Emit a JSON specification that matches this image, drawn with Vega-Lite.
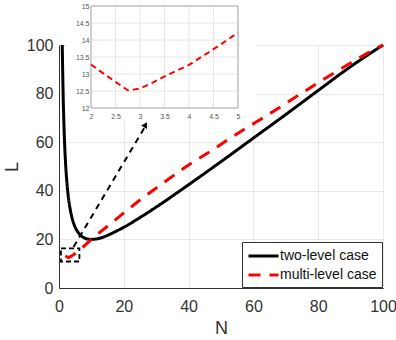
{
  "$schema": "https://vega.github.io/schema/vega-lite/v6.json",
  "width": 324,
  "height": 243,
  "autosize": "none",
  "padding": {"left": 59, "top": 45, "right": 13, "bottom": 52},
  "background": "white",
  "config": {
    "font": "Liberation Sans",
    "view": {"stroke": "#333333", "strokeWidth": 1},
    "legend": {
      "orient": "bottom-right",
      "offset": 1,
      "strokeColor": "#333333",
      "fillColor": "white",
      "padding": 5,
      "rowPadding": 3,
      "symbolType": "M-1,0H3",
      "symbolSize": 225,
      "symbolStrokeWidth": 3,
      "labelFontSize": 14,
      "labelColor": "#111111",
      "labelOffset": 15,
      "labelFont": "Liberation Sans"
    }
  },
  "datasets": {
    "curves": [
      {"N": 1, "L": 100, "series": "two-level case"},
      {"N": 1.25, "L": 81.3, "series": "two-level case"},
      {"N": 1.5, "L": 68.2, "series": "two-level case"},
      {"N": 1.75, "L": 58.9, "series": "two-level case"},
      {"N": 2, "L": 52, "series": "two-level case"},
      {"N": 2.5, "L": 42.5, "series": "two-level case"},
      {"N": 3, "L": 36.3, "series": "two-level case"},
      {"N": 3.5, "L": 32.1, "series": "two-level case"},
      {"N": 4, "L": 29, "series": "two-level case"},
      {"N": 5, "L": 25, "series": "two-level case"},
      {"N": 6, "L": 22.7, "series": "two-level case"},
      {"N": 7, "L": 21.3, "series": "two-level case"},
      {"N": 8, "L": 20.5, "series": "two-level case"},
      {"N": 9, "L": 20.1, "series": "two-level case"},
      {"N": 10, "L": 20, "series": "two-level case"},
      {"N": 11, "L": 20.1, "series": "two-level case"},
      {"N": 12, "L": 20.3, "series": "two-level case"},
      {"N": 14, "L": 21.1, "series": "two-level case"},
      {"N": 16, "L": 22.3, "series": "two-level case"},
      {"N": 20, "L": 25, "series": "two-level case"},
      {"N": 25, "L": 29, "series": "two-level case"},
      {"N": 30, "L": 33.3, "series": "two-level case"},
      {"N": 40, "L": 42.5, "series": "two-level case"},
      {"N": 50, "L": 52, "series": "two-level case"},
      {"N": 60, "L": 61.7, "series": "two-level case"},
      {"N": 70, "L": 71.4, "series": "two-level case"},
      {"N": 80, "L": 81.3, "series": "two-level case"},
      {"N": 90, "L": 91.1, "series": "two-level case"},
      {"N": 100, "L": 100, "series": "two-level case"},
      {"N": 2, "L": 13.28, "series": "multi-level case"},
      {"N": 2.25, "L": 13.02, "series": "multi-level case"},
      {"N": 2.5, "L": 12.77, "series": "multi-level case"},
      {"N": 2.75, "L": 12.52, "series": "multi-level case"},
      {"N": 3, "L": 12.57, "series": "multi-level case"},
      {"N": 3.25, "L": 12.74, "series": "multi-level case"},
      {"N": 3.5, "L": 12.93, "series": "multi-level case"},
      {"N": 3.75, "L": 13.1, "series": "multi-level case"},
      {"N": 4, "L": 13.27, "series": "multi-level case"},
      {"N": 4.25, "L": 13.5, "series": "multi-level case"},
      {"N": 4.5, "L": 13.73, "series": "multi-level case"},
      {"N": 4.75, "L": 13.97, "series": "multi-level case"},
      {"N": 5, "L": 14.22, "series": "multi-level case"},
      {"N": 7, "L": 16.4, "series": "multi-level case"},
      {"N": 10, "L": 20, "series": "multi-level case"},
      {"N": 15, "L": 25.5, "series": "multi-level case"},
      {"N": 20, "L": 30.9, "series": "multi-level case"},
      {"N": 25, "L": 36.2, "series": "multi-level case"},
      {"N": 31.5, "L": 42.6, "series": "multi-level case"},
      {"N": 40, "L": 50.6, "series": "multi-level case"},
      {"N": 45, "L": 54.8, "series": "multi-level case"},
      {"N": 55, "L": 63.5, "series": "multi-level case"},
      {"N": 65, "L": 71.7, "series": "multi-level case"},
      {"N": 74, "L": 79.4, "series": "multi-level case"},
      {"N": 80.6, "L": 85, "series": "multi-level case"},
      {"N": 90, "L": 92.6, "series": "multi-level case"},
      {"N": 97, "L": 98, "series": "multi-level case"},
      {"N": 100, "L": 100, "series": "multi-level case"}
    ],
    "cover": [{"N": 2.47, "N2": 61.1, "L": 68.7, "L2": 118.5}],
    "zoombox": [{"N": 0.6, "N2": 6.3, "L": 10.9, "L2": 16.3}],
    "arrow": [{"N": 4.5, "L": 16.9, "N2": 26.3, "L2": 65.8}],
    "head": [{"N": 26.7, "L": 67.2}],
    "insetFrame": [{"N": 2, "N2": 5, "L": 12, "L2": 15}],
    "insetGridX": [{"N": 2.5}, {"N": 3}, {"N": 3.5}, {"N": 4}, {"N": 4.5}],
    "insetGridY": [{"L": 12.5}, {"L": 13}, {"L": 13.5}, {"L": 14}, {"L": 14.5}]
  },
  "layer": [
    {
      "layer": [
        {
          "data": {"name": "cover"},
          "mark": {"type": "rect", "fill": "white", "stroke": null},
          "encoding": {
            "x": {
              "field": "N", "type": "quantitative",
              "scale": {"domain": [0, 100], "nice": false},
              "axis": {
                "values": [0, 20, 40, 60, 80, 100],
                "grid": true, "gridColor": "#e8e8e8",
                "ticks": false, "labelPadding": 10,
                "labelFontSize": 16, "labelColor": "#333333",
                "labelFlush": false,
                "domainColor": "#333333",
                "title": "N", "titleFontSize": 18, "titleFontWeight": "normal",
                "titleColor": "#333333", "titlePadding": 5
              }
            },
            "x2": {"field": "N2"},
            "y": {
              "field": "L", "type": "quantitative",
              "scale": {"domain": [0, 100], "nice": false},
              "axis": {
                "values": [0, 20, 40, 60, 80, 100],
                "grid": true, "gridColor": "#e8e8e8",
                "ticks": false, "labelPadding": 6,
                "labelFontSize": 16, "labelColor": "#333333",
                "labelFlush": false,
                "domainColor": "#333333",
                "title": "L", "titleFontSize": 18, "titleFontWeight": "normal",
                "titleColor": "#333333", "titlePadding": 5
              }
            },
            "y2": {"field": "L2"}
          }
        },
        {
          "data": {"name": "curves"},
          "mark": {"type": "line", "strokeWidth": 3, "interpolate": "monotone"},
          "encoding": {
            "x": {"field": "N", "type": "quantitative"},
            "y": {"field": "L", "type": "quantitative"},
            "color": {
              "field": "series", "type": "nominal",
              "scale": {"domain": ["two-level case", "multi-level case"], "range": ["#000000", "#ff0000"]},
              "legend": {"title": null}
            },
            "strokeDash": {
              "field": "series", "type": "nominal",
              "scale": {"domain": ["two-level case", "multi-level case"], "range": [[1, 0], [12, 9]]},
              "legend": {"title": null}
            }
          }
        },
        {
          "data": {"name": "zoombox"},
          "mark": {"type": "rect", "fill": null, "stroke": "#000000", "strokeWidth": 1.8, "strokeDash": [5, 3]},
          "encoding": {
            "x": {"field": "N", "type": "quantitative"},
            "x2": {"field": "N2"},
            "y": {"field": "L", "type": "quantitative"},
            "y2": {"field": "L2"}
          }
        },
        {
          "data": {"name": "arrow"},
          "mark": {"type": "rule", "stroke": "#000000", "strokeWidth": 2, "strokeDash": [6, 5]},
          "encoding": {
            "x": {"field": "N", "type": "quantitative"},
            "x2": {"field": "N2"},
            "y": {"field": "L", "type": "quantitative"},
            "y2": {"field": "L2"}
          }
        },
        {
          "data": {"name": "head"},
          "mark": {"type": "point", "shape": "triangle-up", "filled": true, "color": "#000000", "size": 45, "angle": 30, "opacity": 1},
          "encoding": {
            "x": {"field": "N", "type": "quantitative"},
            "y": {"field": "L", "type": "quantitative"}
          }
        }
      ]
    },
    {
      "layer": [
        {
          "data": {"name": "insetGridX"},
          "mark": {"type": "rule", "stroke": "#e6e6e6", "strokeWidth": 1},
          "encoding": {
            "x": {
              "field": "N", "type": "quantitative",
              "scale": {"domain": [2, 5], "range": [32, 179], "nice": false},
              "axis": {
                "orient": "bottom", "offset": -180, "zindex": 2,
                "values": [2, 2.5, 3, 3.5, 4, 4.5, 5], "format": "~g",
                "grid": false, "ticks": false, "domain": false,
                "labelFontSize": 7, "labelColor": "#555555", "labelPadding": 4,
                "labelFlush": false, "title": null
              }
            },
            "y": {
              "datum": 12, "type": "quantitative",
              "scale": {"domain": [12, 15], "range": [63, -39], "nice": false},
              "axis": {
                "orient": "left", "offset": -32, "zindex": 2,
                "values": [12, 12.5, 13, 13.5, 14, 14.5, 15], "format": "~g",
                "grid": false, "ticks": false, "domain": false,
                "labelFontSize": 7, "labelColor": "#555555", "labelPadding": 2,
                "labelFlush": false, "title": null
              }
            },
            "y2": {"datum": 15}
          }
        },
        {
          "data": {"name": "insetGridY"},
          "mark": {"type": "rule", "stroke": "#e6e6e6", "strokeWidth": 1},
          "encoding": {
            "y": {"field": "L", "type": "quantitative"},
            "x": {"datum": 2, "type": "quantitative"},
            "x2": {"datum": 5}
          }
        },
        {
          "data": {"name": "insetFrame"},
          "mark": {"type": "rect", "fill": null, "stroke": "#a0a0a0", "strokeWidth": 1},
          "encoding": {
            "x": {"field": "N", "type": "quantitative"},
            "x2": {"field": "N2"},
            "y": {"field": "L", "type": "quantitative"},
            "y2": {"field": "L2"}
          }
        },
        {
          "data": {"name": "curves"},
          "transform": [
            {"filter": "datum.series == 'multi-level case' && datum.N >= 2 && datum.N <= 5"}
          ],
          "mark": {"type": "line", "stroke": "#ff0000", "strokeWidth": 2, "strokeDash": [6, 4]},
          "encoding": {
            "x": {"field": "N", "type": "quantitative"},
            "y": {"field": "L", "type": "quantitative"}
          }
        }
      ]
    }
  ],
  "resolve": {"scale": {"x": "independent", "y": "independent"}}
}
